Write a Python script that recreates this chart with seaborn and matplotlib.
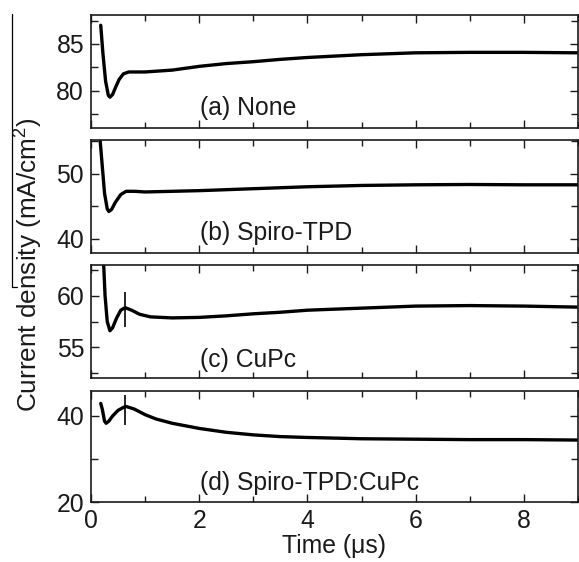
import matplotlib
matplotlib.use("Agg")
import matplotlib.pyplot as plt
from matplotlib.ticker import MultipleLocator
from matplotlib.lines import Line2D
import seaborn as sns
import pandas as pd

sns.set_style("ticks")
plt.rcParams['font.family'] = ['Liberation Sans', 'DejaVu Sans']
plt.rcParams['mathtext.fontset'] = 'custom'
plt.rcParams['mathtext.rm'] = 'Liberation Sans'

# ---------------- data ----------------
x_a = [0.18, 0.22, 0.27, 0.32, 0.35, 0.40, 0.45, 0.52, 0.60, 0.70, 1.0, 1.5, 2.0, 2.5, 3.0, 3.5, 4.0, 4.5, 5.0, 5.5, 6.0, 7.0, 8.0, 9.0]
y_a = [87.0, 84.0, 81.0, 79.5, 79.3, 79.6, 80.3, 81.2, 81.8, 82.0, 82.0, 82.2, 82.6, 82.9, 83.1, 83.35, 83.55, 83.7, 83.85, 83.95, 84.05, 84.1, 84.1, 84.05]

x_b = [0.16, 0.20, 0.25, 0.30, 0.33, 0.38, 0.45, 0.55, 0.65, 0.80, 1.0, 1.5, 2.0, 3.0, 4.0, 5.0, 6.0, 7.0, 8.0, 9.0]
y_b = [56.0, 52.0, 47.0, 44.6, 44.2, 44.5, 45.6, 46.8, 47.3, 47.3, 47.2, 47.3, 47.4, 47.7, 48.0, 48.2, 48.3, 48.35, 48.3, 48.3]

x_c = [0.23, 0.26, 0.30, 0.35, 0.40, 0.47, 0.55, 0.63, 0.75, 0.90, 1.1, 1.5, 2.0, 2.5, 3.0, 3.5, 4.0, 5.0, 6.0, 7.0, 8.0, 9.0]
y_c = [63.5, 60.0, 57.5, 56.6, 56.9, 57.8, 58.6, 58.85, 58.6, 58.2, 57.95, 57.85, 57.9, 58.05, 58.25, 58.4, 58.6, 58.8, 59.0, 59.05, 59.0, 58.9]

x_d = [0.18, 0.21, 0.25, 0.28, 0.33, 0.40, 0.50, 0.60, 0.65, 0.80, 1.0, 1.2, 1.5, 2.0, 2.5, 3.0, 3.5, 4.0, 5.0, 6.0, 7.0, 8.0, 9.0]
y_d = [42.9, 41.5, 38.8, 38.3, 38.8, 40.0, 41.3, 42.0, 42.2, 41.6, 40.3, 39.3, 38.3, 37.1, 36.2, 35.6, 35.2, 35.0, 34.7, 34.6, 34.5, 34.5, 34.4]

panel_labels = ["(a) None", "(b) Spiro-TPD", "(c) CuPc", "(d) Spiro-TPD:CuPc"]
ylims = [(76.0, 88.1), (37.8, 55.2), (52.0, 63.0), (20.0, 45.8)]
y_major = [5, 10, 5, 20]
y_minor = [2.5, 5, 2.5, 10]

marker_x = 0.62
marker_c = (57.0, 60.4)
marker_d = (37.9, 44.9)

xticks = [0, 2, 4, 6, 8]

# ---------------- figure ----------------
fig = plt.figure(figsize=(5.79, 5.62), dpi=100)
L, W = 91 / 579, 487 / 579
rects = [(15, 128), (140, 253), (265, 378), (391, 502)]
label_y = [0.115, 0.115, 0.097, 0.108]

series = [(x_a, y_a), (x_b, y_b), (x_c, y_c), (x_d, y_d)]
fs = 17.8
ink = "#1a1a1a"
axes = []
for i, ((top, bot), (xs, ys)) in enumerate(zip(rects, series)):
    ax = fig.add_axes([L, 1 - bot / 562, W, (bot - top) / 562])
    df = pd.DataFrame({"t": xs, "j": ys})
    sns.lineplot(data=df, x="t", y="j", ax=ax, color="black", lw=2.4)
    ax.set_xlim(0, 9)
    ax.set_ylim(*ylims[i])
    ax.xaxis.set_major_locator(MultipleLocator(2))
    ax.xaxis.set_minor_locator(MultipleLocator(1))
    ax.yaxis.set_major_locator(MultipleLocator(y_major[i]))
    ax.yaxis.set_minor_locator(MultipleLocator(y_minor[i]))
    ax.tick_params(which="both", direction="in", top=True, right=True,
                   colors=ink, labelsize=fs, width=1.0)
    ax.tick_params(which="major", length=6, pad=5)
    ax.tick_params(which="minor", length=4.5)
    ax.tick_params(axis="y", which="minor", length=5)
    for s in ax.spines.values():
        s.set_color(ink)
        s.set_linewidth(1.2)
    ax.set_xlabel("")
    ax.set_ylabel("")
    if i < 3:
        ax.tick_params(labelbottom=False)
    ax.text(2.02, label_y[i], panel_labels[i], transform=ax.get_xaxis_transform(),
            ha="left", va="baseline", fontsize=fs, color=ink)
    axes.append(ax)

axes[2].vlines(marker_x, *marker_c, color="black", lw=1.2)
axes[3].vlines(marker_x, *marker_d, color="black", lw=1.2)

axes[3].set_xticks(xticks)
axes[3].set_xlabel("Time (μs)", fontsize=fs, color=ink, labelpad=1)

fig.text(28 / 579, 1 - 265 / 562, "Current density (mA/cm$^2$)", rotation=90,
         ha="center", va="center", fontsize=18.8, color=ink)

# thin vertical rule at the far left of the original figure
fig.add_artist(Line2D([12 / 579, 12 / 579], [1 - 14 / 562, 1 - 287 / 562], color="black", lw=0.9))
fig.add_artist(Line2D([12 / 579, 17 / 579], [1 - 287 / 562, 1 - 287 / 562], color="black", lw=0.9))

fig.savefig("out.png", dpi=100)
